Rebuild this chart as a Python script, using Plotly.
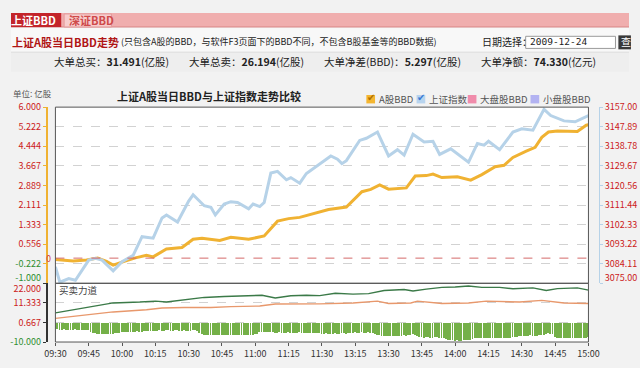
import plotly.graph_objects as go

# ---------------- data ----------------
# minute index (0 = 09:30, 120 = 11:30/13:00, 240 = 15:00)
bbd_min = [0, 8, 14, 19, 23, 26, 31, 36, 41, 44, 50, 57, 62, 66, 74, 79, 87, 94, 100, 105,
           110, 119, 123, 131, 138, 142, 146, 150, 158, 162, 167, 170, 174, 181, 187, 192,
           196, 198, 202, 206, 212, 216, 219, 222, 226, 235, 239, 240]
bbd_val = [-0.05, -0.11, -0.07, 0.00, -0.13, -0.28, -0.13, 0.01, 0.11, 0.05, 0.36, 0.42, 0.75,
           0.79, 0.70, 0.83, 0.75, 0.88, 1.47, 1.57, 1.62, 1.84, 1.93, 2.03, 2.64, 2.73, 2.91,
           2.74, 2.79, 3.26, 3.28, 3.34, 3.20, 3.23, 3.10, 3.32, 3.51, 3.63, 3.69, 4.00, 4.25,
           4.40, 4.80, 5.01, 5.05, 5.03, 5.28, 5.297]

idx_min = [0, 2, 6, 9, 15, 18, 21, 26, 30, 35, 39, 44, 48, 50, 55, 60, 62, 67, 70, 72, 76,
           79, 82, 87, 89, 92, 94, 97, 100, 101, 104, 106, 110, 113, 119, 124, 127, 129, 131,
           137, 140, 145, 150, 154, 157, 161, 166, 170, 173, 178, 186, 190, 193, 195, 200,
           206, 210, 215, 220, 223, 229, 234, 240]
idx_val = [3082.6, 3075.5, 3077.2, 3076.4, 3085.8, 3086.6, 3085.8, 3080.8, 3085.1, 3088.0,
           3096.7, 3096.0, 3105.4, 3106.8, 3103.5, 3113.3, 3116.2, 3111.1, 3110.4, 3106.8,
           3111.9, 3113.0, 3112.6, 3109.7, 3111.9, 3110.7, 3112.6, 3126.3, 3127.1, 3126.1,
           3123.2, 3124.2, 3121.6, 3126.1, 3130.5, 3134.3, 3132.8, 3130.7, 3132.1, 3141.5,
           3142.5, 3145.4, 3134.3, 3137.2, 3134.7, 3144.4, 3140.8, 3141.1, 3135.0, 3137.6,
           3131.4, 3140.1, 3139.3, 3141.1, 3137.2, 3145.4, 3146.9, 3146.3, 3156.0, 3153.1,
           3150.6, 3150.2, 3153.1]

# 买卖力道 panel
buy_min = [0, 12, 26, 38, 45, 50, 58, 67, 76, 84, 93, 99, 106, 113, 119, 126, 134, 141, 148,
           157, 161, 167, 174, 180, 186, 192, 200, 206, 215, 221, 226, 235, 240]
buy_val = [5.9, 8.5, 11.3, 11.8, 12.3, 11.8, 13.0, 14.3, 14.8, 15.2, 15.5, 14.0, 15.2, 15.5,
           15.3, 16.6, 16.1, 16.4, 18.1, 18.6, 17.8, 18.8, 19.8, 20.0, 20.5, 19.8, 19.8, 19.0,
           19.5, 18.1, 19.1, 19.5, 18.3]
sell_min = [0, 12, 26, 41, 48, 58, 70, 79, 92, 99, 119, 134, 145, 150, 160, 163, 174, 186,
            194, 209, 219, 229, 240]
sell_val = [2.9, 4.6, 6.4, 7.6, 8.5, 8.8, 8.8, 9.3, 9.6, 10.7, 10.8, 11.3, 12.3, 11.0, 11.3,
            12.3, 11.0, 11.3, 12.3, 11.8, 12.7, 11.3, 11.0]
diff_val = [-3.0, -3.2, -3.4, -3.5, -3.3, -3.4, -3.6, -3.5, -3.4, -3.3, -3.5, -3.6, -3.4, -3.5, -3.6, -3.8,
            -4.6, -5.2, -5.5, -5.7, -5.8, -5.6, -5.7, -5.9, -5.8, -5.6, -5.7, -5.5, -5.4, -5.2,
            -4.9, -4.7, -4.6, -4.5, -4.6, -4.7, -4.5, -4.4, -4.6, -4.5, -4.3, -4.2, -4.4, -4.3, -4.1, -4.0,
            -3.9, -3.8, -4.0, -3.9, -3.7, -3.8, -3.9, -4.0, -3.8, -3.7, -3.9, -4.0, -3.8, -3.9, -4.1, -4.0, -3.8, -3.6, -4.2,
            -5.0, -5.8, -6.1, -6.3, -6.2, -6.4, -6.3, -6.5, -6.2, -6.3, -6.4, -6.2, -6.1, -6.3, -6.5, -6.4, -6.2, -6.3, -6.4, -6.3, -6.1, -6.2, -6.4, -6.3, -6.2, -6.0, -5.6,
            -4.8, -4.6, -4.5, -4.6, -4.7, -4.6, -4.8,
            -5.0, -5.1, -4.9, -5.0, -5.2, -5.1, -4.9, -5.0, -5.1, -5.2, -5.0, -4.9, -5.1, -5.2, -5.3, -5.1, -5.0, -5.2, -5.3, -5.4, -5.5,
            -5.6, -5.7, -5.5, -5.6, -5.8, -5.7, -5.5, -5.6, -5.7, -5.5, -5.4, -5.6, -5.5, -5.3,
            -5.0, -4.9, -5.1, -5.0, -4.8, -5.0, -5.1, -4.9, -5.0, -5.2, -5.6,
            -6.2, -6.6, -6.8, -6.9, -6.7, -6.8, -7.0, -6.9, -6.7, -6.8, -6.9, -6.8, -6.6, -6.7, -6.5, -6.3,
            -6.0, -6.1,
            -7.0, -7.4, -7.6, -7.7, -7.5, -7.6, -7.8, -7.7, -7.6, -7.5, -7.7, -7.8, -7.9, -8.4,
            -8.9, -9.2, -9.3, -9.4, -9.3, -9.5, -9.4, -9.2, -9.3, -9.1, -8.8, -8.4,
            -8.0, -7.9, -7.8, -8.0, -7.9, -7.7, -7.8, -8.0, -7.9, -7.8, -7.7, -7.9, -8.0, -7.8, -7.7, -7.9, -7.8, -7.6, -7.4, -7.2,
            -6.9, -6.8, -6.7, -6.9, -6.8, -6.6, -6.8, -6.9, -6.7, -6.6, -6.4, -6.1,
            -5.7, -5.5, -5.6, -5.9,
            -7.2, -7.7, -7.9, -8.0, -7.8, -7.9, -8.0, -7.8, -7.9, -8.0, -7.9, -7.7, -7.8, -7.9, -7.8, -7.6]
diff_min = list(range(len(diff_val)))

time_ticks = [0, 15, 30, 45, 60, 75, 90, 105, 120, 135, 150, 165, 180, 195, 210, 225, 240]
time_labels = ["09:30", "09:45", "10:00", "10:15", "10:30", "10:45", "11:00", "11:15", "11:30",
               "13:15", "13:30", "13:45", "14:00", "14:15", "14:30", "14:45", "15:00"]
left_ticks = [6.000, 5.222, 4.444, 3.667, 2.889, 2.111, 1.333, 0.556, -0.222, -1.000]
right_ticks = [3157.00, 3147.89, 3138.78, 3129.67, 3120.56, 3111.44, 3102.33, 3093.22, 3084.11, 3075.00]
low_ticks = [22.000, 11.333, 0.667, -10.000]

stats = [("大单总买：", "31.491", "(亿股)"), ("大单总卖：", "26.194", "(亿股)"),
         ("大单净差(BBD)：", "5.297", "(亿股)"), ("大单净额：", "74.330", "(亿元)")]

# ---------------- layout helpers ----------------
W, H = 640, 368
def px(x): return x / W
def py(y): return 1 - y / H

RED = "#cc1a1a"
GREEN = "#2f8f2f"
ORANGE = "#f0b232"
BLUE = "#b6d2e8"
FONT = "Noto Sans CJK SC, sans-serif"

def col_tick(v, fmt, shift=0):
    c = RED if v > 0 else GREEN
    s = "<span style='color:%s'>%s</span>" % (c, fmt % v)
    if shift < 0:      # lift label above its tick
        s = s + "<br> "
    elif shift > 0:    # drop label below its tick
        s = " <br>" + s
    return s

left_text = [col_tick(v, "%.3f", -1 if v == left_ticks[-1] else 0) for v in left_ticks]
low_text = [col_tick(v, "%.3f", 1 if v == low_ticks[0] else 0) for v in low_ticks]
right_text = []
for v in right_ticks:
    s = "<span style='color:%s'>%.2f</span>" % (RED, v)
    if v == right_ticks[-1]:
        s = s + "<br> "
    right_text.append(s)

fig = go.Figure()

fig.add_trace(go.Scatter(x=idx_min, y=idx_val, xaxis="x", yaxis="y2", mode="lines",
                         line=dict(color=BLUE, width=3), hoverinfo="skip"))
fig.add_trace(go.Scatter(x=bbd_min, y=bbd_val, xaxis="x", yaxis="y", mode="lines",
                         line=dict(color=ORANGE, width=3), hoverinfo="skip"))
fig.add_trace(go.Bar(x=diff_min, y=diff_val, xaxis="x2", yaxis="y3", width=0.4,
                     marker=dict(color="#74b048", line=dict(width=0)), hoverinfo="skip"))
fig.add_trace(go.Scatter(x=buy_min, y=buy_val, xaxis="x2", yaxis="y3", mode="lines",
                         line=dict(color="#3b7a48", width=1.4), hoverinfo="skip"))
fig.add_trace(go.Scatter(x=sell_min, y=sell_val, xaxis="x2", yaxis="y3", mode="lines",
                         line=dict(color="#e8986c", width=1.4), hoverinfo="skip"))

xdom = [px(46), px(598)]
main_dom = [py(290), py(101)]
low_dom = [py(353), py(290)]

shapes = []
annos = []

# header bands
shapes += [
    dict(type="rect", xref="paper", yref="paper", x0=0, x1=1, y0=py(15), y1=1,
         fillcolor="#f0aeae", line=dict(width=0), layer="below"),
    dict(type="line", xref="paper", yref="paper", x0=0, x1=1, y0=py(15), y1=py(15),
         line=dict(color="#d98686", width=1)),
    dict(type="rect", xref="paper", yref="paper", x0=0, x1=px(52), y0=py(15), y1=py(0),
         fillcolor="#c3242a", line=dict(width=0)),
    dict(type="rect", xref="paper", yref="paper", x0=px(55), x1=px(104), y0=py(15), y1=py(1),
         fillcolor="#f7cdcd", line=dict(color="#e39a9a", width=1)),
    dict(type="rect", xref="paper", yref="paper", x0=0, x1=1, y0=py(42), y1=py(16),
         fillcolor="#f8f8f8", line=dict(width=0), layer="below"),
    dict(type="line", xref="paper", yref="paper", x0=0, x1=1, y0=py(42), y1=py(42),
         line=dict(color="#dddddd", width=1)),
    dict(type="rect", xref="paper", yref="paper", x0=0, x1=1, y0=py(63), y1=py(42),
         fillcolor="#eeeeee", line=dict(width=0), layer="below"),
    # date box
    dict(type="rect", xref="paper", yref="paper", x0=px(533), x1=px(626), y0=py(38), y1=py(25),
         fillcolor="#ffffff", line=dict(color="#9a9a9a", width=1)),
    dict(type="rect", xref="paper", yref="paper", x0=px(629), x1=px(642), y0=py(39), y1=py(24),
         fillcolor="#3a3a3a", line=dict(width=0)),
]
annos += [
    dict(text="<b>上证BBD</b>", x=px(-2), y=py(8), xanchor="left", yanchor="middle",
         font=dict(size=11, color="#ffffff")),
    dict(text="<b>深证BBD</b>", x=px(58), y=py(8), xanchor="left", yanchor="middle",
         font=dict(size=11, color="#cf4a4a")),
    dict(text="<b>上证A股当日BBD走势</b>", x=px(-1), y=py(31), xanchor="left", yanchor="middle",
         font=dict(size=11, color="#b01515")),
    dict(text="(只包含A股的BBD，与软件F3页面下的BBD不同，不包含B股基金等的BBD数据)", x=px(112),
         y=py(31), xanchor="left", yanchor="middle", font=dict(size=9, color="#222222")),
    dict(text="日期选择：", x=px(486), y=py(31), xanchor="left", yanchor="middle",
         font=dict(size=10, color="#222222")),
    dict(text="2009-12-24", x=px(535), y=py(31), xanchor="left", yanchor="middle",
         font=dict(size=9.5, color="#222222", family="DejaVu Sans Mono, monospace")),
    dict(text="查", x=px(630), y=py(31), xanchor="left", yanchor="middle",
         font=dict(size=10, color="#ffffff")),
]
stat_x = [42, 182, 322, 485]
for sx, (a, b, c) in zip(stat_x, stats):
    annos.append(dict(text="%s<b>%s</b>%s" % (a, b, c), x=px(sx), y=py(52), xanchor="left",
                      yanchor="middle", font=dict(size=10.5, color="#222222")))

# chart title, unit, legend
annos += [
    dict(text="<b>上证A股当日BBD与上证指数走势比较</b>", x=px(205), y=py(89), xanchor="center",
         yanchor="middle", font=dict(size=11, color="#222222")),
    dict(text="单位: 亿股", x=px(0), y=py(86), xanchor="left", yanchor="middle",
         font=dict(size=8.5, color="#555555")),
    dict(text="0", x=px(44), y=py(263), xanchor="right", yanchor="middle",
         font=dict(size=9, color="#d04545")),
    dict(text="买卖力道", x=px(48), y=py(297), xanchor="left", yanchor="middle",
         font=dict(size=9.5, color="#444444")),
]
legend_items = [(368, "#f4b631", "A股BBD", True, "#b07000"),
                (420, "#b8d4ee", "上证指数", True, "#3a7bd5"),
                (473, "#f08cab", "大盘股BBD", False, None),
                (538, "#b3b3f2", "小盘股BBD", False, None)]
for lx, lc, lt, chk, cc in legend_items:
    shapes.append(dict(type="rect", xref="paper", yref="paper", x0=px(lx), x1=px(lx + 9),
                       y0=py(97), y1=py(88), fillcolor=lc, line=dict(width=0)))
    if chk:
        annos.append(dict(text="✔", x=px(lx + 5), y=py(91), xanchor="center", yanchor="middle",
                          font=dict(size=10, color=cc, family="DejaVu Sans")))
    annos.append(dict(text=lt, x=px(lx + 11), y=py(92), xanchor="left", yanchor="middle",
                      font=dict(size=9.5, color="#555555")))

# zero line and frames
shapes += [
    dict(type="line", xref="paper", yref="y", x0=xdom[0], x1=xdom[1], y0=0, y1=0,
         line=dict(color="#d46a6a", width=1, dash="dash")),
    dict(type="rect", xref="paper", yref="paper", x0=xdom[0], x1=xdom[1], y0=main_dom[0],
         y1=main_dom[1], line=dict(color="#555555", width=1)),
    dict(type="rect", xref="paper", yref="paper", x0=xdom[0], x1=xdom[1], y0=low_dom[0],
         y1=low_dom[1], line=dict(color="#555555", width=1)),
]

fig.update_layout(
    width=W, height=H, margin=dict(l=0, r=0, t=0, b=0),
    paper_bgcolor="#f2f2f2", plot_bgcolor="#ffffff",
    font=dict(family=FONT, size=10, color="#333333"),
    showlegend=False, bargap=0,
    xaxis=dict(domain=xdom, range=[0, 240], anchor="y", showticklabels=False,
               showgrid=False, zeroline=False, showline=False, fixedrange=True),
    xaxis2=dict(domain=xdom, range=[0, 240], anchor="y3", tickvals=time_ticks,
                ticktext=time_labels, ticks="outside", ticklen=3, tickcolor="#555555",
                showgrid=False, zeroline=False, showline=False,
                tickfont=dict(size=9, color="#333333")),
    yaxis=dict(domain=main_dom, range=[-1, 6], anchor="free", position=px(37),
               tickvals=left_ticks, ticktext=left_text,
               ticks="outside", ticklen=3, tickcolor=ORANGE, showline=True, linecolor=ORANGE,
               linewidth=2, showgrid=True, gridcolor="#d2d2d2", griddash="dash", gridwidth=1,
               zeroline=False, tickfont=dict(size=9)),
    yaxis2=dict(domain=main_dom, range=[3075, 3157], overlaying="y", side="right",
                anchor="free", position=px(609), tickvals=right_ticks,
                ticktext=right_text,
                ticks="outside", ticklen=3, tickcolor=BLUE, showline=True, linecolor=BLUE,
                linewidth=1, showgrid=False, zeroline=False, tickfont=dict(size=9)),
    yaxis3=dict(domain=low_dom, range=[-10, 22], anchor="free", position=px(37),
                tickvals=low_ticks, ticktext=low_text,
                ticks="outside", ticklen=3, tickcolor="#333333", showline=True,
                linecolor="#333333", linewidth=2, showgrid=True, gridcolor="#d2d2d2",
                griddash="dash", zeroline=False, tickfont=dict(size=9)),
    shapes=shapes,
)
for a in annos:
    a.setdefault("xref", "paper")
    a.setdefault("yref", "paper")
    a.setdefault("showarrow", False)
fig.update_layout(annotations=annos)

fig.write_html("out.html", config={"displayModeBar": False},
               post_script="document.body.style.margin='0';document.body.style.overflow='hidden';")
